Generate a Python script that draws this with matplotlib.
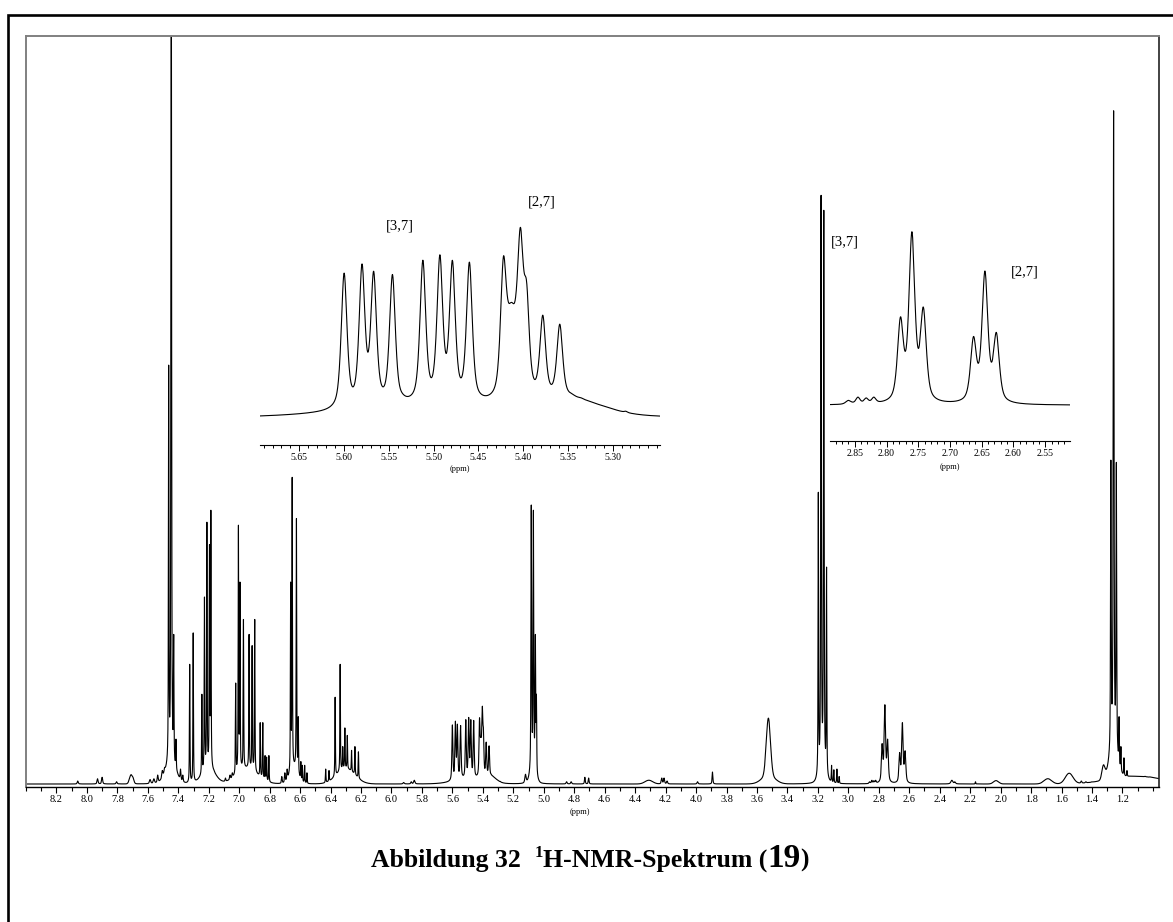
import numpy as np
import matplotlib
matplotlib.use("Agg")
import matplotlib.pyplot as plt
from matplotlib.lines import Line2D
from matplotlib.ticker import MultipleLocator, FormatStrFormatter

# ---------------- data ----------------
# sharp lines: position (ppm), apex height above baseline (% of main plot height), half width (ppm)
peak_ppm = [8.06, 7.93, 7.90, 7.805, 7.695, 7.585, 7.56, 7.535, 7.505, 7.49,
            7.463, 7.446, 7.430, 7.415, 7.385, 7.37,
            7.325, 7.302,
            7.245, 7.228, 7.212, 7.195, 7.186, 7.165,
            7.09, 7.06, 7.045,
            7.023, 7.005, 6.995, 6.972, 6.935, 6.915, 6.898,
            6.862, 6.845, 6.83, 6.82, 6.805,
            6.72, 6.70, 6.685,
            6.662, 6.652, 6.624, 6.612,
            6.595, 6.585, 6.57, 6.555,
            6.432, 6.41,
            6.370, 6.337, 6.32, 6.306, 6.29, 6.262, 6.24, 6.217,
            5.92, 5.87, 5.85,
            5.600, 5.580, 5.567, 5.546, 5.535, 5.512, 5.493, 5.479, 5.460,
            5.422, 5.413, 5.403, 5.396, 5.378, 5.359, 5.345, 5.335, 5.30, 5.285,
            5.12, 5.082, 5.068, 5.055, 5.048,
            4.85, 4.82, 4.73, 4.705,
            4.225, 4.21, 4.19, 3.99, 3.892,
            3.197, 3.179, 3.161, 3.143, 3.11, 3.095, 3.075, 3.06,
            2.86, 2.845, 2.832, 2.82,
            2.778, 2.760, 2.742, 2.663, 2.645, 2.627,
            2.32, 2.30, 2.165, 1.47, 1.44, 1.40,
            1.276, 1.258, 1.240, 1.222, 1.21, 1.19, 1.17, 1.05, 1.02]
peak_height = [0.4, 0.7, 0.9, 0.3, 0.8, 0.6, 0.7, 1.2, 1.8, 2.2,
               56, 118, 20, 6, 2.0, 1.2,
               16, 20.2,
               12, 25, 35, 32, 36.6, 1.8,
               0.8, 1.2, 1.5,
               13.5, 34.6, 27, 22, 20, 18.5, 22,
               8.2, 8.2, 3.8, 3.6, 3.8,
               1.0, 1.5, 2.0,
               27, 41, 35.5, 9,
               3.0, 2.5, 2.5, 1.5,
               2.0, 1.8,
               11.6, 16, 5, 7.5, 6.5, 4.5, 5, 4.3,
               0.2, 0.3, 0.5,
               7.9, 8.4, 8.0, 7.8, 1.0, 8.6, 8.9, 8.6, 8.5,
               8.8, 6.3, 10.4, 7.4, 5.6, 5.1, 1.1, 0.8, 0.3, 0.35,
               1.3, 37.3, 36.6, 20, 12,
               0.3, 0.3, 0.9, 0.8,
               0.8, 0.8, 0.4, 0.3, 1.6,
               39, 78.7, 76.7, 29, 2.5, 1.9, 2.0, 1.0,
               0.3, 0.5, 0.45, 0.5,
               5.4, 10.6, 6.0, 4.2, 8.2, 4.45,
               0.5, 0.3, 0.3, 0.4, 0.3, 0.3,
               43.3, 90, 43, 9, 5, 3.5, 1.8, 0.9, 0.8]
peak_width = [0.004, 0.004, 0.004, 0.004, 0.006, 0.005, 0.005, 0.004, 0.004, 0.004,
              0.002, 0.0025, 0.002, 0.002, 0.003, 0.003,
              0.002, 0.002,
              0.002, 0.002, 0.002, 0.002, 0.002, 0.003,
              0.003, 0.003, 0.003,
              0.002, 0.002, 0.002, 0.002, 0.002, 0.002, 0.002,
              0.002, 0.002, 0.002, 0.002, 0.002,
              0.003, 0.003, 0.003,
              0.002, 0.002, 0.002, 0.002,
              0.002, 0.002, 0.002, 0.002,
              0.002, 0.002,
              0.002, 0.002, 0.002, 0.002, 0.002, 0.002, 0.002, 0.002,
              0.005, 0.004, 0.005,
              0.0038, 0.0038, 0.0038, 0.0038, 0.004, 0.0038, 0.0038, 0.0038, 0.0038,
              0.0038, 0.0065, 0.0040, 0.0035, 0.0038, 0.0038, 0.004, 0.003, 0.003, 0.002,
              0.005, 0.0025, 0.0025, 0.0025, 0.002,
              0.004, 0.004, 0.003, 0.003,
              0.004, 0.004, 0.004, 0.004, 0.003,
              0.002, 0.0025, 0.0025, 0.002, 0.002, 0.002, 0.002, 0.002,
              0.005, 0.004, 0.004, 0.004,
              0.0055, 0.0055, 0.0055, 0.0055, 0.0055, 0.0055,
              0.008, 0.005, 0.002, 0.004, 0.004, 0.004,
              0.0025, 0.003, 0.0025, 0.002, 0.002, 0.002, 0.002, 0.003, 0.003]

# broad humps under the lines: position (ppm), amplitude, half width (ppm)
broad_ppm = [7.71, 7.45, 7.20, 6.95, 6.64, 6.30, 5.48, 5.345, 5.07, 4.31,
             3.525, 3.525, 3.17, 2.03, 1.69, 1.55, 1.325, 1.26, 1.10]
broad_height = [1.2, 2.5, 2.0, 2.0, 2.0, 2.0, 0.6, 0.7, 2.0, 0.5,
                7.6, 1.2, 1.5, 0.45, 0.7, 1.4, 1.8, 4.0, 1.0]
broad_width = [0.012, 0.04, 0.05, 0.08, 0.03, 0.07, 0.12, 0.04, 0.02, 0.03,
               0.016, 0.05, 0.025, 0.02, 0.03, 0.03, 0.012, 0.03, 0.2]

x_ticks_main = [8.2, 8.0, 7.8, 7.6, 7.4, 7.2, 7.0, 6.8, 6.6, 6.4, 6.2, 6.0, 5.8, 5.6,
                5.4, 5.2, 5.0, 4.8, 4.6, 4.4, 4.2, 4.0, 3.8, 3.6, 3.4, 3.2, 3.0,
                2.8, 2.6, 2.4, 2.2, 2.0, 1.8, 1.6, 1.4, 1.2]
x_ticks_inset1 = [5.65, 5.60, 5.55, 5.50, 5.45, 5.40, 5.35, 5.30]
x_ticks_inset2 = [2.85, 2.80, 2.75, 2.70, 2.65, 2.60, 2.55]
inset1_labels = ["[3,7]", "[2,7]"]
inset2_labels = ["[3,7]", "[2,7]"]
caption_parts = ["Abbildung 32  ", "1", "H-NMR-Spektrum (", "19", ")"]

# ---------------- build spectrum from the line list ----------------
ETA = 0.6
grid = np.arange(0.90, 8.50, 0.0002)


def shape(x, x0, w):
    d = ((x - x0) / w) ** 2
    return ETA / (1 + d) + (1 - ETA) * np.exp(-np.log(2) * d)


def gauss(x, x0, w):
    return np.exp(-np.log(2) * ((x - x0) / w) ** 2)


pp = np.array(peak_ppm)
ph = np.array(peak_height)
pw = np.array(peak_width)
bp = np.array(broad_ppm)
bh = np.array(broad_height)
bw = np.array(broad_width)


def broad_at(x):
    out = np.zeros_like(x, dtype=float)
    for c, a, w in zip(bp, bh, bw):
        out += a * gauss(x, c, w)
    return out


M = np.array([[shape(pi, pj, wj) for pj, wj in zip(pp, pw)] for pi in pp])
target = ph - broad_at(pp)
amp = np.linalg.solve(M, target)
amp = np.clip(amp, 0.05 * ph, None)

spec = broad_at(grid)
for c, a, w in zip(pp, amp, pw):
    spec += a * shape(grid, c, w)

# ---------------- figure ----------------
W, H = 1173, 922
plt.rcParams['font.family'] = ['Liberation Serif', 'DejaVu Serif']
fig = plt.figure(figsize=(W / 100, H / 100), dpi=100)


def box(l, t, r, b):
    return [l / W, 1 - b / H, (r - l) / W, (b - t) / H]


# outer page frame (left and top)
fig.add_artist(Line2D([8 / W, 8 / W, 1.0], [0.0, 1 - 15 / H, 1 - 15 / H],
                      transform=fig.transFigure, color='black', lw=1.9,
                      solid_joinstyle='miter'))

# main axes
ax = fig.add_axes(box(26, 36, 1159, 787))
ax.plot(grid, spec, color='black', lw=0.8)
ax.set_xlim(8.40, 0.96)
ax.set_ylim(-0.4, 100)
ax.set_yticks([])
for s in ['left', 'top']:
    ax.spines[s].set_color('#808080')
    ax.spines[s].set_linewidth(1.4)
ax.spines['right'].set_color('#222222')
ax.spines['right'].set_linewidth(1.2)
ax.spines['bottom'].set_linewidth(1.0)
ax.set_xticks(x_ticks_main)
ax.xaxis.set_major_formatter(FormatStrFormatter('%.1f'))
ax.xaxis.set_minor_locator(MultipleLocator(0.1))
ax.tick_params(axis='x', which='major', direction='out', length=4, width=0.8,
               labelsize=7.5, pad=2)
ax.tick_params(axis='x', which='minor', direction='out', length=3, width=0.8)
fig.text(580 / W, 1 - 812 / H, "(ppm)", ha='center', va='center', fontsize=6)


def make_inset(l, t, r, b, xlim, ylim, ticks, ppm_y):
    a = fig.add_axes(box(l, t, r, b))
    a.patch.set_visible(False)
    a.plot(grid, spec, color='black', lw=0.8)
    a.set_xlim(*xlim)
    a.set_ylim(*ylim)
    a.set_yticks([])
    for s in ['left', 'top', 'right']:
        a.spines[s].set_visible(False)
    a.spines['bottom'].set_linewidth(0.8)
    a.set_xticks(ticks)
    a.xaxis.set_major_formatter(FormatStrFormatter('%.2f'))
    a.xaxis.set_minor_locator(MultipleLocator(0.01))
    a.tick_params(axis='x', which='major', direction='out', length=4, width=0.7,
                  labelsize=7, pad=2)
    a.tick_params(axis='x', which='minor', direction='out', length=2.5, width=0.7)
    fig.text((l + r) / 2 / W, 1 - ppm_y / H, "(ppm)", ha='center', va='center',
             fontsize=6)
    return a


# inset 1 : 5.69 - 5.25 ppm
in1 = make_inset(260, 190, 660, 445, (5.694, 5.247), (-1.49, 12.44),
                 x_ticks_inset1, 469)
# inset 2 : 2.89 - 2.51 ppm
in2 = make_inset(830, 215, 1070, 441, (2.889, 2.511), (-2.18, 11.62),
                 x_ticks_inset2, 467)

fig.text(400 / W, 1 - 226 / H, inset1_labels[0], ha='center', va='center', fontsize=10.5)
fig.text(542 / W, 1 - 202 / H, inset1_labels[1], ha='center', va='center', fontsize=10.5)
fig.text(845 / W, 1 - 242 / H, inset2_labels[0], ha='center', va='center', fontsize=10.5)
fig.text(1025 / W, 1 - 272 / H, inset2_labels[1], ha='center', va='center', fontsize=10.5)

# caption, laid out piece by piece
renderer = fig.canvas.get_renderer()
sizes = [18.5, 12, 18.5, 24, 18.5]
raise_px = [0, 10, 0, 0, 0]
texts = []
for s, fs in zip(caption_parts, sizes):
    t = fig.text(0, 0, s, fontsize=fs, fontweight='bold', ha='left',
                 va='baseline')
    texts.append(t)
widths = [t.get_window_extent(renderer).width for t in texts]
total = sum(widths)
x0 = 590 - total / 2
base_y = 867
for t, wdt, rp in zip(texts, widths, raise_px):
    t.set_position((x0 / W, 1 - (base_y - rp) / H))
    x0 += wdt

fig.savefig("out.png", dpi=100)
